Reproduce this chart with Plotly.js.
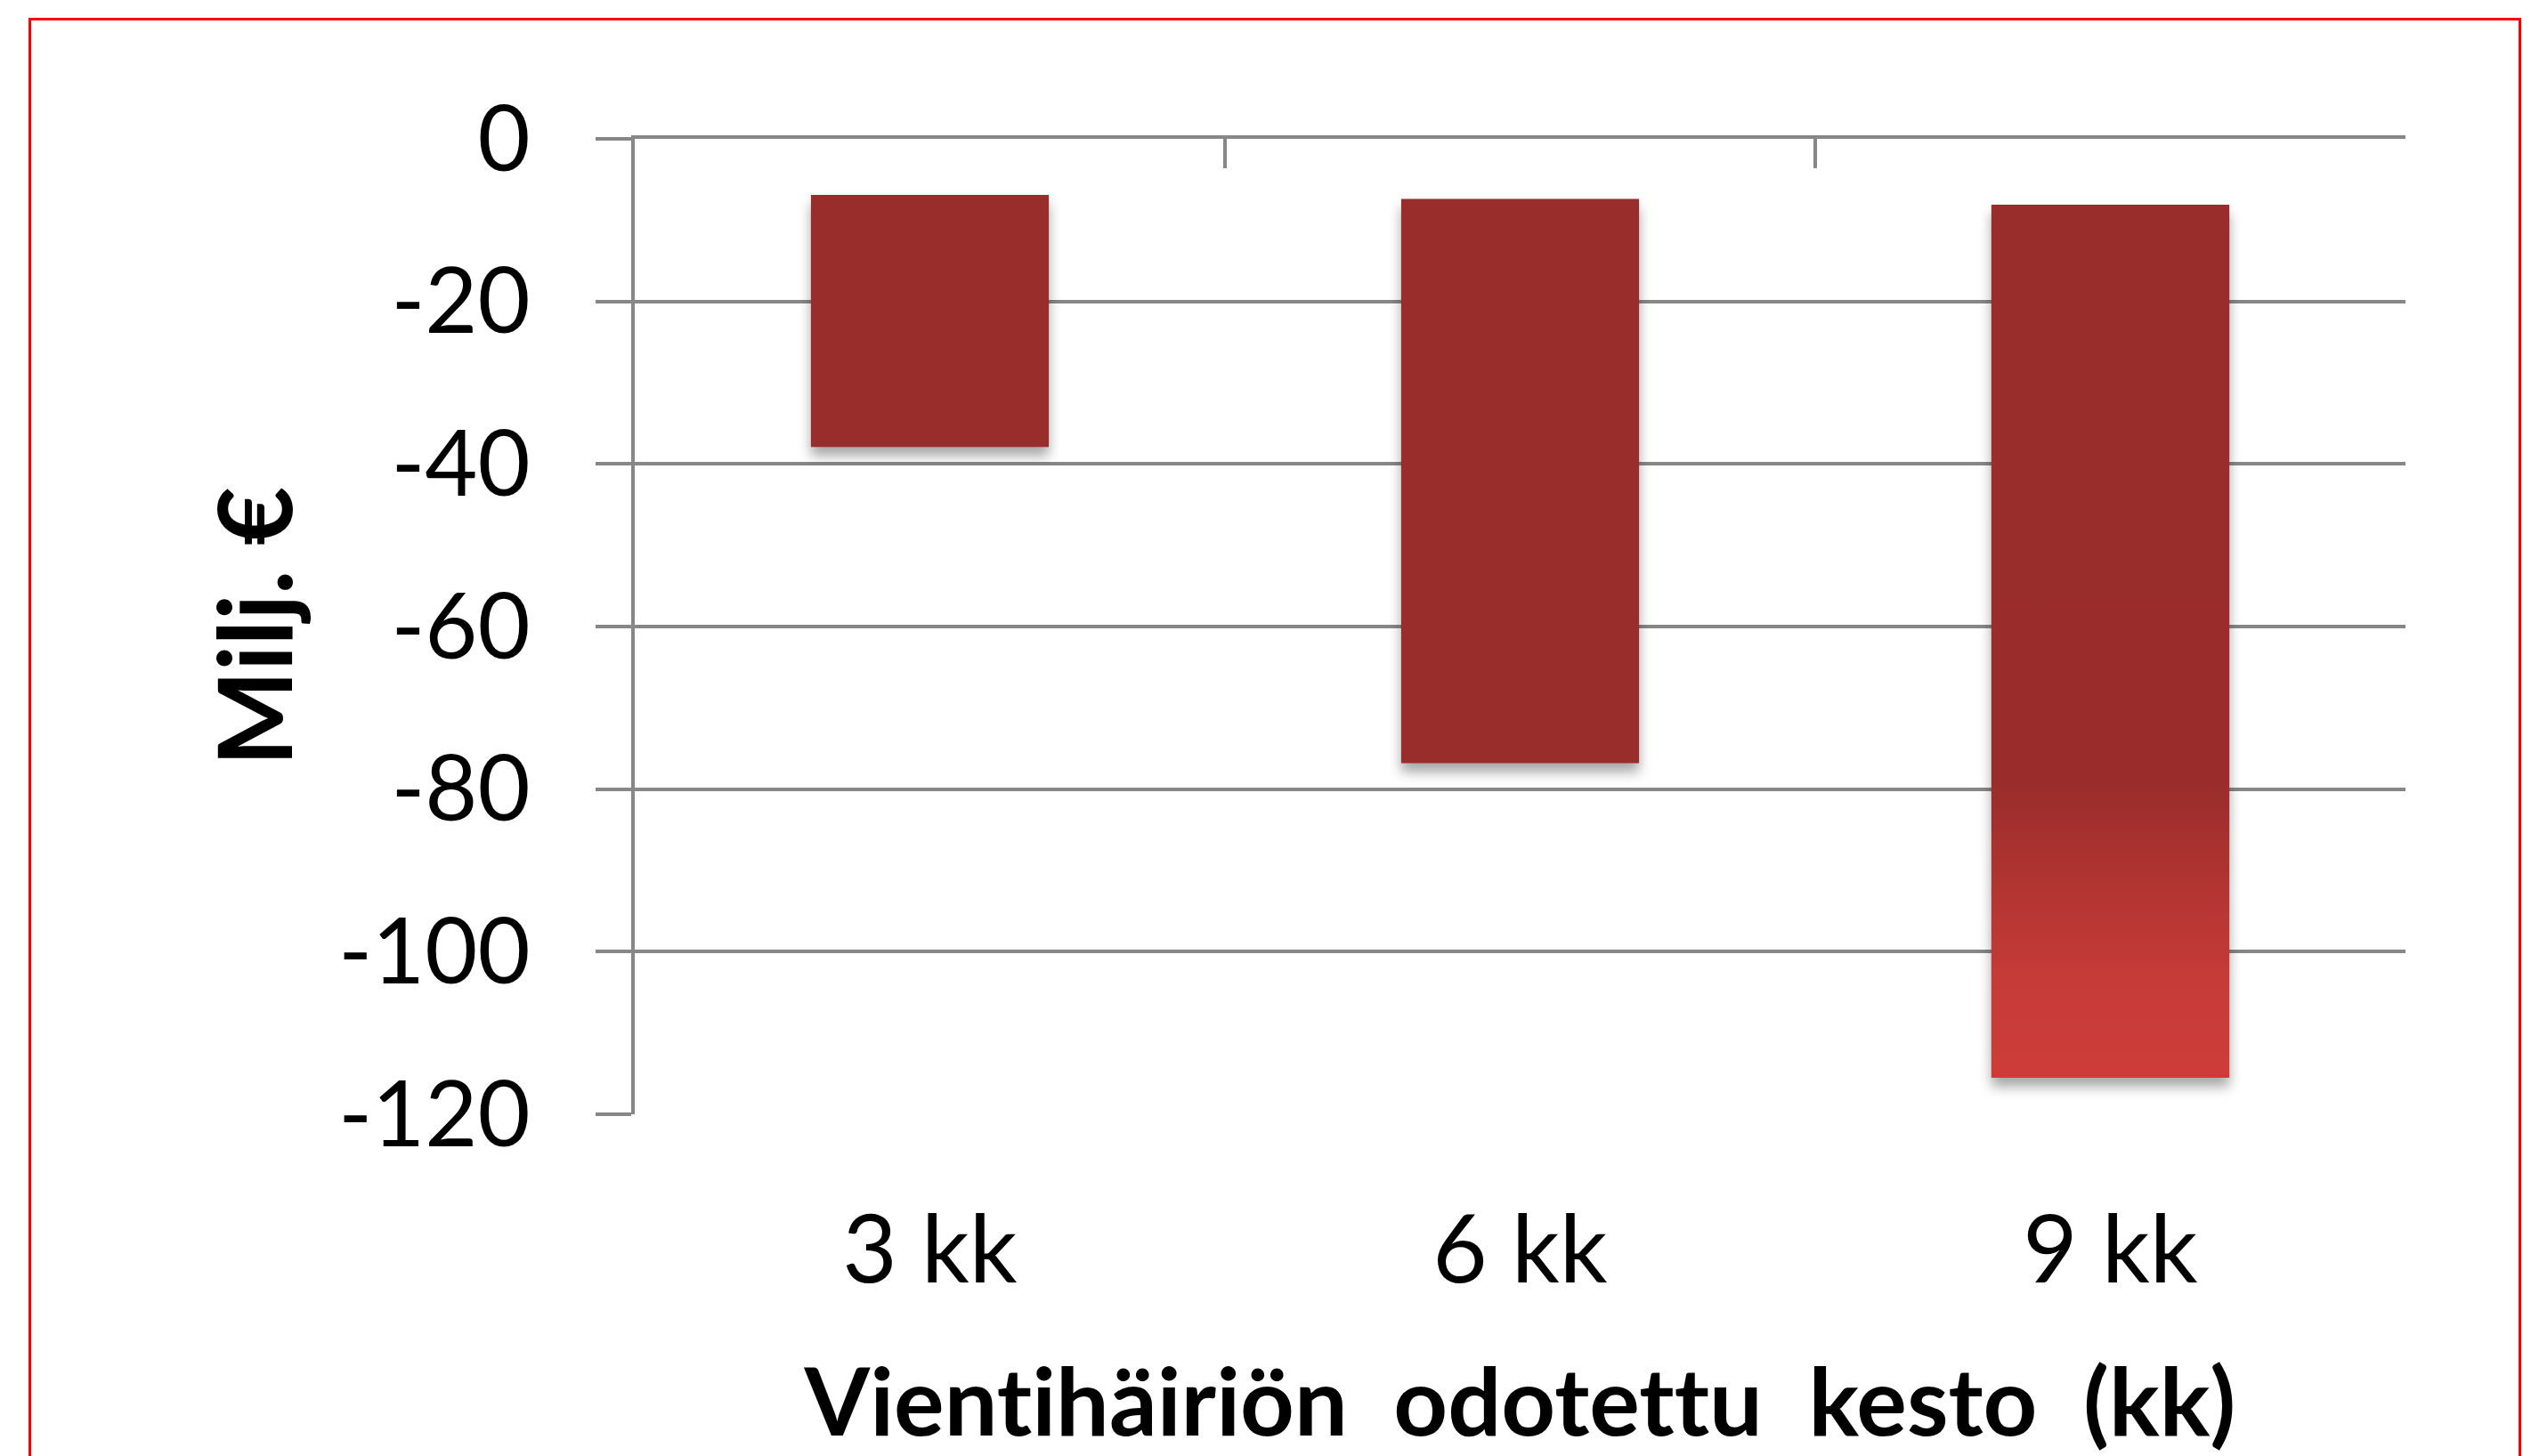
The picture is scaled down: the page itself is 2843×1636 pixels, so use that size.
<!DOCTYPE html>
<html>
<head>
<meta charset="utf-8">
<script src="https://cdn.plot.ly/plotly-3.0.1.min.js"></script>
<style>
  html, body { margin: 0; padding: 0; background: #ffffff; overflow: hidden; }
  #wrap { position: relative; width: 2843px; height: 1636px; }
  #chart { position: absolute; left: 0; top: 0; width: 2843px; height: 1636px; }
  #frame { position: absolute; left: 32px; top: 20px; width: 2800px; height: 2000px;
           border: 3px solid #ff0000; box-sizing: border-box; pointer-events: none; }
  .barlayer .point path { filter: drop-shadow(0px 10px 7px rgba(0,0,0,0.35)); }
  .main-svg text { font-variant-ligatures: none; font-feature-settings: "liga" 0; }
</style>
</head>
<body>
<div id="wrap">
  <div id="chart"></div>
  <div id="frame"></div>
</div>
<script>
// ---- data ----
const categories = ['3 kk', '6 kk', '9 kk'];
const barTop    = [-6.9, -7.4, -8.1];     // upper end of each floating bar (Milj. €)
const barBottom = [-37.9, -76.8, -115.5]; // lower end of each floating bar (Milj. €)
const yTickVals = [0, -20, -40, -60, -80, -100, -120];
const yTickText = ['0', '-20', '-40', '-60', '-80', '-100', '-120'];
const xTitle = 'Vientihäiriön  odotettu  kesto  (kk)';
const yTitle = 'Milj. €';

// ---- style ----
const BAR_WIDTH = 0.403;
const BAR_COLOR = '#992d2b';
const GRID = '#878787';
const FONT = 'Lato, "Open Sans", sans-serif';

const idx = categories.map((c, i) => i);
const barLen = barTop.map((t, i) => t - barBottom[i]);

const traces = [
  {
    type: 'bar',
    x: idx,
    y: barLen,
    base: barBottom,
    width: BAR_WIDTH,
    marker: { color: BAR_COLOR, line: { width: 0 } },
    hoverinfo: 'skip',
    showlegend: false
  }
];

// gradient overlay for the last (largest) bar, built from its data values
const g = categories.length - 1;
traces.push({
  type: 'scatter',
  mode: 'none',
  x: [g - BAR_WIDTH / 2, g + BAR_WIDTH / 2, g + BAR_WIDTH / 2, g - BAR_WIDTH / 2, g - BAR_WIDTH / 2],
  y: [barBottom[g], barBottom[g], barTop[g], barTop[g], barBottom[g]],
  fill: 'toself',
  fillgradient: {
    type: 'vertical',
    colorscale: [[0, '#cd3c39'], [0.11, '#c63b38'], [0.21, '#b43532'], [0.335, '#9a2d2b'], [1, '#992d2b']]
  },
  line: { width: 0 },
  hoverinfo: 'skip',
  showlegend: false
});

// dummy trace to realise the top (boundary-tick) axis
traces.push({
  type: 'scatter', mode: 'none', x: [idx[0]], y: [0], xaxis: 'x2', yaxis: 'y',
  hoverinfo: 'skip', showlegend: false
});

const layout = {
  width: 2843,
  height: 1636,
  margin: { l: 713, r: 141, t: 156, b: 384 },
  paper_bgcolor: '#ffffff',
  plot_bgcolor: '#ffffff',
  font: { family: FONT, color: '#000000', size: 104 },
  showlegend: false,
  xaxis: {
    type: 'linear',
    range: [-0.5, 2.5],
    tickvals: idx,
    ticktext: categories,
    ticks: '',
    showgrid: false,
    zeroline: false,
    showline: false,
    ticklabelstandoff: 82,
    tickfont: { family: FONT, size: 106, color: '#000000' },
    title: { text: xTitle, font: { family: FONT, size: 106, color: '#000000', weight: 'bold' }, standoff: 93 },
    fixedrange: true
  },
  xaxis2: {
    type: 'linear',
    overlaying: 'x',
    anchor: 'y',
    side: 'top',
    range: [-0.5, 2.5],
    tickvals: [-0.5, 0.5, 1.5, 2.5],
    ticks: 'inside',
    ticklen: 33,
    tickwidth: 4,
    tickcolor: GRID,
    showline: true,
    linecolor: GRID,
    linewidth: 4,
    showticklabels: false,
    showgrid: false,
    zeroline: false,
    fixedrange: true
  },
  yaxis: {
    range: [-120, 0],
    tickvals: yTickVals,
    ticktext: yTickText,
    ticks: 'outside',
    ticklen: 40,
    tickwidth: 4,
    tickcolor: GRID,
    showgrid: true,
    gridcolor: GRID,
    gridwidth: 4,
    zeroline: false,
    showline: true,
    linecolor: GRID,
    linewidth: 4,
    ticklabelstandoff: 53,
    tickfont: { family: FONT, size: 102, color: '#000000' },
    title: { text: yTitle, font: { family: FONT, size: 114, color: '#000000', weight: 'bold' }, standoff: 14 },
    fixedrange: true
  }
};

Plotly.newPlot('chart', traces, layout, { staticPlot: true, displayModeBar: false });
</script>
</body>
</html>
